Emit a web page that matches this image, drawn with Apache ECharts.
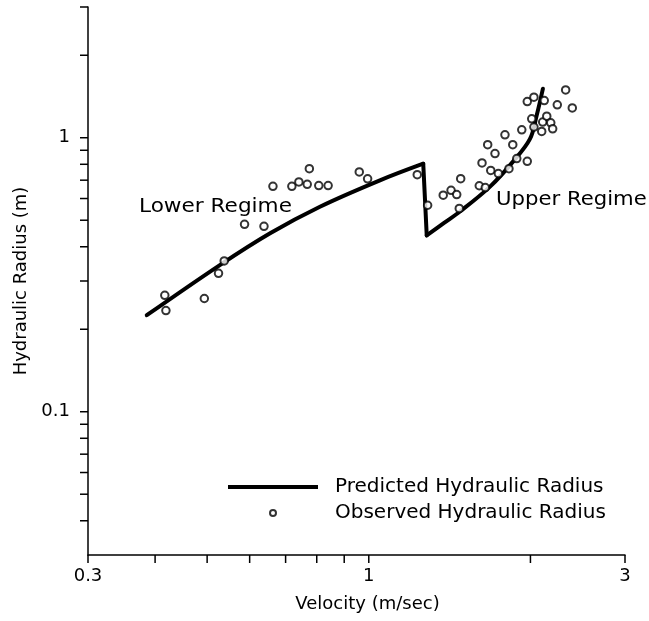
<!DOCTYPE html>
<html><head><meta charset="utf-8">
<script src="https://cdn.jsdelivr.net/npm/echarts@6/dist/echarts.min.js"></script>
<style>html,body{margin:0;padding:0;background:#fff}#c{width:649px;height:621px}</style>
</head><body><div id="c"></div>
<script>
// Predicted hydraulic radius (velocity m/s, radius m)
const lowerLine = [[0.386,0.225],[0.528,0.343],[0.655,0.448],[0.811,0.560],[1.049,0.699],[1.263,0.804]];
const dropLine = [[1.263,0.804],[1.282,0.440]];
const upperLine = [[1.282,0.440],[1.377,0.487],[1.479,0.538],[1.682,0.663],[1.856,0.818],[1.996,0.990],[2.054,1.205],[2.110,1.510]];
// Observed hydraulic radius
const lowerObserved = [[0.417,0.266],[0.419,0.234],[0.494,0.259],[0.525,0.320],[0.538,0.355],[0.587,0.483],[0.638,0.475],[0.663,0.665],[0.719,0.665],[0.741,0.690],[0.768,0.676],[0.775,0.771],[0.807,0.669],[0.840,0.669],[0.960,0.750],[0.995,0.708]];
const upperObserved = [[1.231,0.733],[1.287,0.567],[1.376,0.617],[1.423,0.643],[1.458,0.620],[1.483,0.709],[1.474,0.552],[1.606,0.668],[1.648,0.658],[1.625,0.809],[1.687,0.760],[1.665,0.943],[1.718,0.875],[1.743,0.740],[1.793,1.025],[1.824,0.771],[1.854,0.943],[1.886,0.839],[1.927,1.069],[1.973,0.820],[1.973,1.355],[2.030,1.406],[2.011,1.172],[2.030,1.094],[2.099,1.054],[2.108,1.141],[2.145,1.199],[2.182,1.134],[2.200,1.078],[2.122,1.367],[2.244,1.318],[2.326,1.494],[2.393,1.285]];
// Axes
const xRange = [0.3, 3];
const yRange = [0.03, 3];
const xTickValues = [0.3,0.4,0.5,0.6,0.7,0.8,0.9,1,2,3];
const yTickValues = [0.04,0.05,0.06,0.07,0.08,0.09,0.1,0.2,0.3,0.4,0.5,0.6,0.7,0.8,0.9,1,2,3];
const xTickLabels = ['0.3','1','3'];
const yTickLabels = ['0.1','1'];

const FONT = 'DejaVu Sans';
const TICK = 8;
const predName = 'Predicted Hydraulic Radius';
const obsName = 'Observed Hydraulic Radius';

function labelFmt(list){
  return function(v){ const s = String(+(+v).toPrecision(6)); return list.indexOf(s) >= 0 ? s : ''; };
}
const lineStyle = {color:'#000', width:4, cap:'round', join:'round'};
function lineSeries(data){
  return {type:'line', name:predName, data:data, symbol:'none', smooth:data.length>2?0.35:false,
    lineStyle:lineStyle, itemStyle:{color:'#000'}, silent:true, z:3};
}

const chart = echarts.init(document.getElementById('c'), null, {renderer:'canvas'});
chart.setOption({
  backgroundColor:'#fff',
  animation:false,
  grid:{left:88, right:24, top:7, bottom:66},
  xAxis:{type:'log', logBase:10, min:xRange[0], max:xRange[1],
    name:'Velocity (m/sec)', nameLocation:'middle', nameGap:40,
    nameTextStyle:{fontFamily:FONT, fontSize:18, color:'#000', padding:[0,0,0,22]},
    axisLine:{lineStyle:{color:'#000', width:1.5}},
    axisTick:{show:false}, splitLine:{show:false}, minorTick:{show:false},
    axisLabel:{formatter:labelFmt(xTickLabels), fontFamily:FONT, fontSize:18, color:'#000', margin:12, showMinLabel:true, showMaxLabel:true}},
  yAxis:{type:'log', logBase:10, min:yRange[0], max:yRange[1],
    name:'Hydraulic Radius (m)', nameLocation:'middle', nameGap:56,
    nameTextStyle:{fontFamily:FONT, fontSize:18, color:'#000'},
    axisLine:{lineStyle:{color:'#000', width:1.5}},
    axisTick:{show:false}, splitLine:{show:false}, minorTick:{show:false},
    axisLabel:{formatter:labelFmt(yTickLabels), fontFamily:FONT, fontSize:18, color:'#000', margin:18}},
  legend:{orient:'vertical', left:228, top:477, padding:0, itemWidth:90, itemHeight:6, itemGap:6,
    data:[{name:predName, icon:'path://M0 0H90V4H0Z'}, {name:obsName}], selectedMode:false,
    itemStyle:{borderWidth:1.4},
    textStyle:{fontFamily:FONT, fontSize:20, color:'#000', padding:[0,0,0,12]}},
  graphic:[
    {type:'text', left:139, top:197, scaleX:1.08, silent:true, style:{text:'Lower Regime', font:'20px "DejaVu Sans"', fill:'#000'}},
    {type:'text', left:496, top:190, scaleX:1.06, silent:true, style:{text:'Upper Regime', font:'20px "DejaVu Sans"', fill:'#000'}}
  ],
  series:[
    lineSeries(lowerLine),
    lineSeries(dropLine),
    lineSeries(upperLine),
    {type:'scatter', name:obsName, data:lowerObserved.concat(upperObserved), symbol:'emptyCircle', symbolSize:7.5,
      itemStyle:{color:'#000', borderColor:'#000', borderWidth:1.6}, silent:true, z:4},
    {type:'custom', name:'xticks', coordinateSystem:'cartesian2d', clip:false, silent:true,
      data:xTickValues.map(v=>[v, yRange[0]]), encode:{x:0, y:1},
      renderItem:function(params, api){
        const p = api.coord([api.value(0), yRange[0]]);
        return {type:'line', shape:{x1:p[0], y1:p[1], x2:p[0], y2:p[1]+TICK}, style:{stroke:'#000', lineWidth:1.5}};
      }},
    {type:'custom', name:'yticks', coordinateSystem:'cartesian2d', clip:false, silent:true,
      data:yTickValues.map(v=>[xRange[0], v]), encode:{x:0, y:1},
      renderItem:function(params, api){
        const p = api.coord([xRange[0], api.value(1)]);
        return {type:'line', shape:{x1:p[0], y1:p[1], x2:p[0]-TICK, y2:p[1]}, style:{stroke:'#000', lineWidth:1.5}};
      }}
  ]
});
</script>
</body></html>
